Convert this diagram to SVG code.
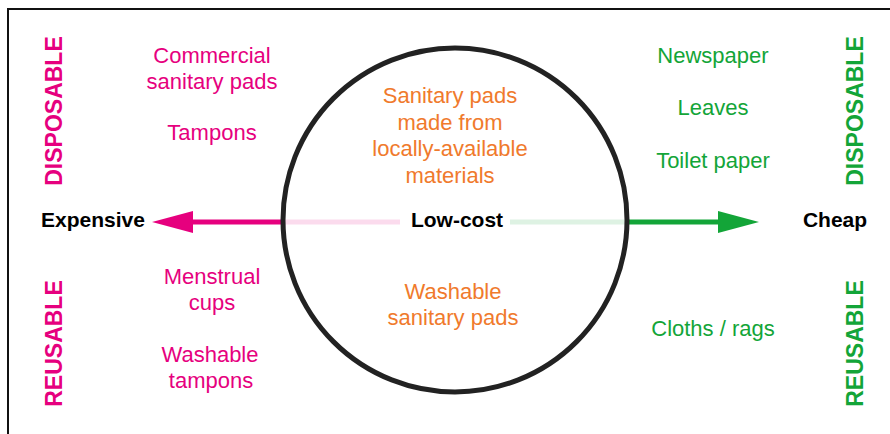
<svg xmlns="http://www.w3.org/2000/svg" width="890" height="434" viewBox="0 0 890 434">
<style>
text{font-family:"Liberation Sans",Arial,sans-serif;text-anchor:middle}
.pk{fill:#E6007E;font-size:22px}
.gr{fill:#13A538;font-size:22px}
.or{fill:#F07A2C;font-size:22px}
.bk{fill:#000;font-size:21px;font-weight:bold}
.vpk{fill:#E6007E;font-size:23px;font-weight:bold}
.vgr{fill:#13A538;font-size:23px;font-weight:bold}
</style>
<rect width="890" height="434" fill="#fff"/>
<path d="M8,434 V9 H890" fill="none" stroke="#111" stroke-width="2"/>
<g id="connectors">
<line x1="400" y1="222" x2="283" y2="222" stroke="#E6007E" stroke-opacity="0.14" stroke-width="5"/>
<line x1="283" y1="222" x2="190" y2="222" stroke="#E6007E" stroke-width="5"/>
<polygon points="152,222 193,211 193,233" fill="#E6007E"/>
<line x1="510" y1="222" x2="627" y2="222" stroke="#13A538" stroke-opacity="0.14" stroke-width="5"/>
<line x1="627" y1="222" x2="720" y2="222" stroke="#13A538" stroke-width="5"/>
<polygon points="759,222 718,211 718,233" fill="#13A538"/>
</g>
<g id="circle">
<circle cx="455" cy="220" r="172" fill="none" stroke="#222" stroke-width="5"/>
</g>
<g id="lowcost-inside">
<text class="or" x="450" y="103">Sanitary pads</text>
<text class="or" x="450" y="129.5">made from</text>
<text class="or" x="450" y="156">locally-available</text>
<text class="or" x="450" y="182.5">materials</text>
<text class="or" x="453" y="298.5">Washable</text>
<text class="or" x="453" y="325">sanitary pads</text>
</g>
<g id="axis-labels">
<text class="bk" x="93" y="227">Expensive</text>
<text class="bk" x="457" y="227">Low-cost</text>
<text class="bk" x="835" y="227">Cheap</text>
</g>
<g id="expensive-disposable">
<text class="pk" x="212" y="63">Commercial</text>
<text class="pk" x="212" y="88.5">sanitary pads</text>
<text class="pk" x="212" y="139.5">Tampons</text>
</g>
<g id="expensive-reusable">
<text class="pk" x="212" y="283.5">Menstrual</text>
<text class="pk" x="212" y="309.5">cups</text>
<text class="pk" x="210" y="361.5">Washable</text>
<text class="pk" x="211" y="387.5">tampons</text>
</g>
<g id="cheap-disposable">
<text class="gr" x="713" y="63">Newspaper</text>
<text class="gr" x="713" y="115">Leaves</text>
<text class="gr" x="713" y="167.5">Toilet paper</text>
</g>
<g id="cheap-reusable">
<text class="gr" x="713" y="336">Cloths / rags</text>
</g>
<g id="side-labels">
<text class="vpk" transform="translate(61.5,111) rotate(-90)">DISPOSABLE</text>
<text class="vpk" transform="translate(61.5,343.5) rotate(-90)">REUSABLE</text>
<text class="vgr" transform="translate(862.5,111) rotate(-90)">DISPOSABLE</text>
<text class="vgr" transform="translate(862.5,343.5) rotate(-90)">REUSABLE</text>
</g>
</svg>
